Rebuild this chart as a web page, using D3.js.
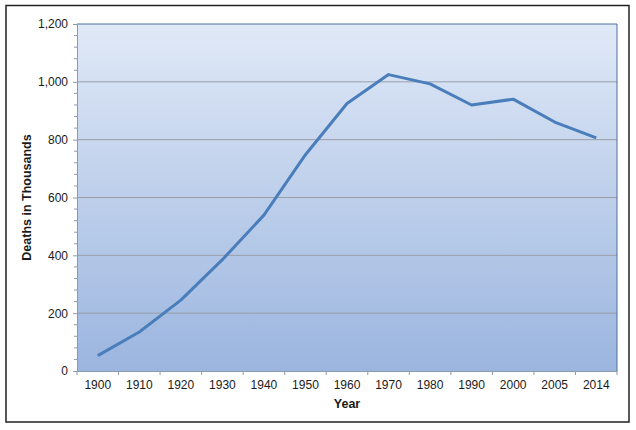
<!DOCTYPE html>
<html>
<head>
<meta charset="utf-8">
<script src="https://cdnjs.cloudflare.com/ajax/libs/d3/7.8.5/d3.min.js"></script>
<style>
  body { margin: 0; background: #fff; }
  text { font-family: "Liberation Sans", Arial, sans-serif; fill: #1a1a1a; }
</style>
</head>
<body>
<div id="chart"></div>
<script>
// deaths in thousands per year
var years = ["1900", "1910", "1920", "1930", "1940", "1950", "1960", "1970", "1980", "1990", "2000", "2005", "2014"];
var deaths = [53, 135, 245, 385, 539, 748, 925, 1025, 993, 920, 940, 861, 806];
var yTicks = [0, 200, 400, 600, 800, 1000, 1200];

const width = 636;
const height = 430;
const margin = { top: 24, right: 19, bottom: 59, left: 77 };

const svg = d3.select("#chart")
    .append("svg")
    .attr("width", width)
    .attr("height", height);

// outer frame
svg.append("rect")
    .attr("x", 6)
    .attr("y", 5.5)
    .attr("width", 623)
    .attr("height", 416.5)
    .attr("fill", "none")
    .attr("stroke", "#222")
    .attr("stroke-width", 1.5);

const x = d3.scaleBand()
    .domain(years)
    .range([margin.left, width - margin.right])
    .padding(0);

const y = d3.scaleLinear()
    .domain([0, 1200])
    .range([height - margin.bottom, margin.top]);

// plot area gradient
const grad = svg.append("defs").append("linearGradient")
    .attr("id", "bg")
    .attr("x1", 0).attr("y1", 0)
    .attr("x2", 0).attr("y2", 1);
grad.append("stop").attr("offset", "0%").attr("stop-color", "#e0e9f7");
grad.append("stop").attr("offset", "100%").attr("stop-color", "#9bb5df");

svg.append("rect")
    .attr("x", x.range()[0])
    .attr("y", y(1200))
    .attr("width", x.range()[1] - x.range()[0])
    .attr("height", y(0) - y(1200))
    .attr("fill", "url(#bg)");

// gridlines
svg.append("g")
    .selectAll("line")
    .data(yTicks.filter(d => d > 0 && d < 1200))
    .enter().append("line")
    .attr("x1", x.range()[0])
    .attr("x2", x.range()[1])
    .attr("y1", d => y(d))
    .attr("y2", d => y(d))
    .attr("stroke", "#999ea6")
    .attr("stroke-width", 1);

// top and right border of plot
svg.append("path")
    .attr("d", `M${x.range()[0]},${y(1200)}H${x.range()[1]}V${y(0)}`)
    .attr("fill", "none")
    .attr("stroke", "#4f6f98")
    .attr("stroke-width", 1);

// y axis
const yAxis = svg.append("g")
    .attr("transform", `translate(${margin.left},0)`)
    .call(d3.axisLeft(y).tickValues(yTicks).tickSize(4).tickPadding(5).tickFormat(d3.format(",")));

// minor ticks every 40
svg.append("g")
    .selectAll("line")
    .data(d3.range(0, 1201, 40).filter(d => d % 200 !== 0))
    .enter().append("line")
    .attr("x1", margin.left - 3)
    .attr("x2", margin.left)
    .attr("y1", d => y(d))
    .attr("y2", d => y(d))
    .attr("stroke", "#8c9aae");

yAxis.select(".domain").attr("stroke", "#8c9aae");
yAxis.selectAll(".tick line").attr("stroke", "#8c9aae");
yAxis.selectAll("text").style("font-size", "12px");

// x axis
const xAxis = svg.append("g")
    .attr("transform", `translate(0,${y(0)})`)
    .call(d3.axisBottom(x).tickSize(0).tickPadding(9));

xAxis.select(".domain").attr("stroke", "#8c9aae");
xAxis.selectAll("text").style("font-size", "12px");

// ticks at category boundaries
svg.append("g")
    .selectAll("line")
    .data(years.concat(["end"]))
    .enter().append("line")
    .attr("x1", (d, i) => x.range()[0] + i * x.bandwidth())
    .attr("x2", (d, i) => x.range()[0] + i * x.bandwidth())
    .attr("y1", y(0))
    .attr("y2", y(0) + 4)
    .attr("stroke", "#8c9aae");

// line
const line = d3.line()
    .x((d, i) => x(years[i]) + x.bandwidth() / 2)
    .y(d => y(d));

svg.append("path")
    .datum(deaths)
    .attr("d", line)
    .attr("fill", "none")
    .attr("stroke", "#4a7ebb")
    .attr("stroke-width", 3)
    .attr("stroke-linejoin", "round");

// axis titles
svg.append("text")
    .attr("x", (x.range()[0] + x.range()[1]) / 2)
    .attr("y", 408)
    .attr("text-anchor", "middle")
    .style("font-size", "12.5px")
    .style("font-weight", "bold")
    .text("Year");

svg.append("text")
    .attr("transform", `translate(31,${(y(0) + y(1200)) / 2}) rotate(-90)`)
    .attr("text-anchor", "middle")
    .style("font-size", "12.5px")
    .style("font-weight", "bold")
    .text("Deaths in Thousands");
</script>
</body>
</html>
